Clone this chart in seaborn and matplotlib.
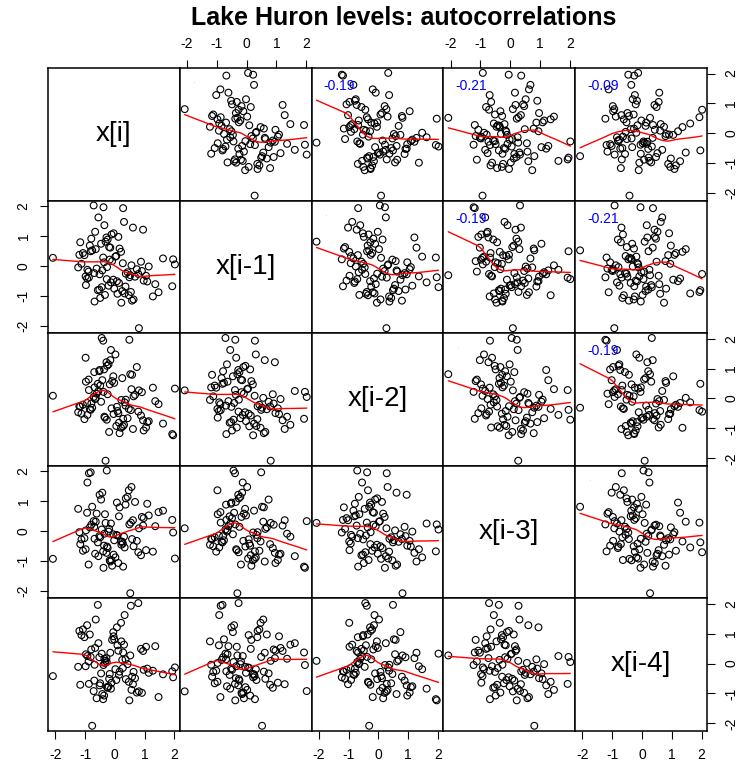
import numpy as np
import pandas as pd
import matplotlib
matplotlib.use("Agg")
import matplotlib.pyplot as plt
import seaborn as sns

# ---- data (standardised Lake Huron residual series, read approx. from the picture)
series = [
    0.42, 0.18, -0.73, 1.21, 0.95, -0.28, -0.51, 0.07, -1.12, 0.63,
    -0.19, -0.88, 1.47, 0.31, 0.02, 0.56, -0.64, -0.97, -0.33, 1.05,
    -0.11, 0.74, -0.46, -0.05, -1.23, 0.22, 1.96, -0.38, 0.49, -0.81,
    -0.57, 0.14, 0.88, -0.24, -0.69, 0.36, -1.02, 1.28, 0.61, -0.15,
    -0.42, -0.93, 0.09, 0.27, -2.08, 0.81, -0.31, 0.52, -0.76, -0.02,
    1.14, -0.66, -0.21, 0.43, -1.07, -0.49, 0.97, 0.12, -0.36, 0.68,
    -0.84, 0.25, 1.62, -0.55, -0.13, -0.92, 0.33, 0.05, 2.02, -0.71,
    -0.44, -0.27, 0.79, -1.16, 0.58, 0.16, -0.09, -0.61, 1.36, -0.35,
    -0.98, 0.47, 0.21, -0.17, 0.91, -0.79, -0.52, 1.09, -0.04, -0.26,
    0.37, -1.19, -0.68, 1.93, 0.28, -0.39, -0.87, 0.54,
]
var_labels = ["x[i]", "x[i-1]", "x[i-2]", "x[i-3]", "x[i-4]"]
lag_corr_text = ["", "-0.19", "-0.21", "-0.09"]   # lag 1 shown as a tiny dot
tick_values = [-2, -1, 0, 1, 2]
title = "Lake Huron levels: autocorrelations"

s = np.asarray(series, dtype=float)
nlag = len(var_labels)
N = len(s)
df = pd.DataFrame({var_labels[k]: s[nlag - 1 - k: N - k] for k in range(nlag)})


def lowess(x, y, f=2 / 3, it=3):
    o = np.argsort(x, kind="mergesort")
    x = np.asarray(x)[o]
    y = np.asarray(y)[o]
    n = len(x)
    ns = max(min(int(round(f * n)), n), 2)
    rw = np.ones(n)
    fit = np.zeros(n)
    for _ in range(it + 1):
        for i in range(n):
            d = np.abs(x - x[i])
            h = max(np.sort(d)[ns - 1], 1e-12)
            u = d / h
            w = np.where(u < 0.999, (1 - np.clip(u, 0, 1) ** 3) ** 3, 0.0)
            w[u <= 0.001] = 1.0
            w = w * rw
            sw = w.sum()
            if sw <= 0:
                fit[i] = y[i]
                continue
            xm = (w * x).sum() / sw
            ym = (w * y).sum() / sw
            sxx = (w * (x - xm) ** 2).sum()
            if sxx > 1e-10:
                b = (w * (x - xm) * (y - ym)).sum() / sxx
                fit[i] = ym + b * (x[i] - xm)
            else:
                fit[i] = ym
        res = y - fit
        cmad = 6 * np.median(np.abs(res))
        if cmad < 1e-12:
            break
        uu = res / cmad
        rw = np.where(np.abs(uu) < 1, (1 - uu ** 2) ** 2, 0.0)
    return x, fit


sns.set_style("white")
plt.rcParams["font.family"] = ["Liberation Sans", "DejaVu Sans"]
plt.rcParams["text.color"] = "black"
plt.rcParams["xtick.color"] = "black"
plt.rcParams["ytick.color"] = "black"
plt.rcParams["xtick.labelcolor"] = "black"
plt.rcParams["ytick.labelcolor"] = "black"

W, H = 740, 768
fig = plt.figure(figsize=(W / 100, H / 100), dpi=100)

left_px, right_px, top_px, bot_px = 48.0, 707.0, 68.0, 730.7
pw = (right_px - left_px) / nlag
ph = (bot_px - top_px) / nlag

lo, hi = s.min(), s.max()
pad = 0.04 * (hi - lo)
lim = (lo - pad, hi + pad)

for r in range(nlag):
    for c in range(nlag):
        x0 = left_px + c * pw
        y0 = top_px + r * ph
        ax = fig.add_axes([x0 / W, 1 - (y0 + ph) / H, pw / W, ph / H])
        ax.set_xlim(lim)
        ax.set_ylim(lim)
        ax.set_facecolor("white")
        for sp in ax.spines.values():
            sp.set_visible(True)
            sp.set_color("black")
            sp.set_linewidth(1.1)
        ax.set_xticks(tick_values)
        ax.set_yticks(tick_values)
        ax.tick_params(direction="out", length=5.5, width=0.8, colors="black",
                       labelsize=10, pad=7,
                       bottom=False, top=False, left=False, right=False,
                       labelbottom=False, labeltop=False, labelleft=False, labelright=False)
        if r == 0 and c % 2 == 1:
            ax.tick_params(axis="x", top=True, labeltop=True)
        if r == nlag - 1 and c % 2 == 0:
            ax.tick_params(axis="x", bottom=True, labelbottom=True)
        if c == 0 and r % 2 == 1:
            ax.tick_params(axis="y", left=True, labelleft=True)
        if c == nlag - 1 and r % 2 == 0:
            ax.tick_params(axis="y", right=True, labelright=True)
        ax.set_yticklabels([str(t) for t in tick_values], rotation=90, va="center")
        ax.set_xticklabels([str(t) for t in tick_values])
        for t in ax.yaxis.get_major_ticks():
            t.label1.set_ha("right")
            t.label2.set_rotation(90)
            t.label2.set_va("center")
            t.label2.set_ha("left")
        ax.set_xlabel("")
        ax.set_ylabel("")
        ax.grid(False)

        if r == c:
            ax.text(0.5, 0.5, var_labels[r], transform=ax.transAxes,
                    ha="center", va="center", fontsize=20, color="black")
            continue

        xv = df[var_labels[c]].to_numpy()
        yv = df[var_labels[r]].to_numpy()
        sns.scatterplot(x=xv, y=yv, ax=ax, marker="o", s=24,
                        facecolor="none", edgecolor="black", linewidth=0.8,
                        legend=False, zorder=3)
        lx, ly = lowess(xv, yv)
        sns.lineplot(x=lx, y=ly, ax=ax, sort=False, estimator=None,
                     color="red", linewidth=1.0, zorder=4)
        if c > r:
            txt = lag_corr_text[c - r - 1]
            if txt:
                ax.text(lim[0] + 12 / 30, lim[1] - 11 / 30, txt, ha="left", va="top",
                        fontsize=10, color="#0000ff", zorder=5)
            else:
                ax.text(lim[0] + 15 / 30, lim[1] - 14 / 30, ".", ha="center",
                        va="center", fontsize=3, color="#0000ff", zorder=5)
        ax.set_xlim(lim)
        ax.set_ylim(lim)

fig.text(404 / W, 1 - 18 / H, title, ha="center", va="center",
         fontsize=18, fontweight="bold", color="black")

fig.savefig("out.png", dpi=100, facecolor="white")
